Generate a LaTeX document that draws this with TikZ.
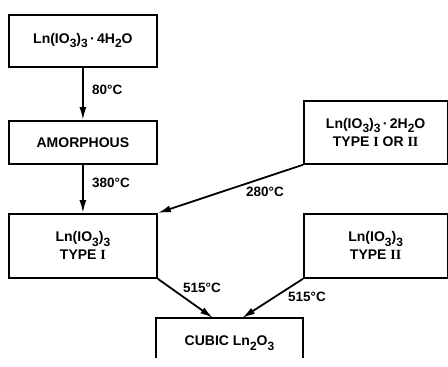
\documentclass[tikz,border=0pt]{standalone}
\usepackage{fontspec}
\setmainfont{Liberation Sans}
\newfontfamily\numfont{Liberation Serif}
\usetikzlibrary{arrows.meta}
% lowered subscript set in the text face
\newcommand{\lowsub}[1]{\raisebox{-0.55ex}{\fontsize{12}{12}\selectfont\bfseries #1}}
% roman numerals with serifs
\newcommand{\rn}[1]{{\numfont\bfseries #1}}
% raised dot of a hydrate
\newcommand{\hdot}{\,·\,}
\begin{document}
\begin{tikzpicture}[x=1pt,y=-1pt,
  box/.style={draw,line width=1.8pt,inner sep=0pt,align=center,
    font=\fontsize{14}{19}\selectfont\bfseries},
  flow/.style={line width=1.8pt,-{Latex[length=13pt,width=7pt]}},
  temp/.style={font=\fontsize{13.5}{16}\selectfont\bfseries,inner sep=0pt,anchor=west}]
\useasboundingbox (0,0) rectangle (448,367);

% phases
\node[box,minimum width=148pt,minimum height=52pt,anchor=north west] (hyd4) at (8,14)
  {Ln(IO\lowsub{3})\lowsub{3}\hdot4H\lowsub{2}O};
\node[box,minimum width=148pt,minimum height=43pt,anchor=north west] (amor) at (8,120)
  {AMORPHOUS};
\node[box,minimum width=148pt,minimum height=64pt,anchor=north west] (typeI) at (8,213)
  {Ln(IO\lowsub{3})\lowsub{3}\\[-1pt] TYPE \rn{I}};
\node[box,minimum width=143.5pt,minimum height=63pt,anchor=north west] (hyd2) at (303,100)
  {Ln(IO\lowsub{3})\lowsub{3}\hdot2H\lowsub{2}O\\[-1pt] TYPE \rn{I} OR \rn{II}};
\node[box,minimum width=143.5pt,minimum height=64pt,anchor=north west] (typeII) at (303,213)
  {Ln(IO\lowsub{3})\lowsub{3}\\[-1pt] TYPE \rn{II}};
\node[inner sep=0pt,minimum width=147pt,minimum height=50pt,anchor=north,
  font=\fontsize{14}{19}\selectfont\bfseries] (cubic) at (229.5,318)
  {CUBIC Ln\lowsub{2}O\lowsub{3}};
\draw[line width=1.8pt] ([yshift=10pt]cubic.south west) -- (cubic.north west)
  -- (cubic.north east) -- ([yshift=10pt]cubic.south east);

% transformations
\draw[flow] (hyd4) -- (amor);
\draw[flow] (amor) -- (typeI);
\draw[flow] (hyd2.south west) -- (typeI.north east);
\draw[flow] (typeI.south east) -- ([xshift=-16.5pt]cubic.north);
\draw[flow] (typeII.south west) -- ([xshift=12.5pt]cubic.north);

% temperatures
\node[temp] (t80) at (92,90) {80°C};
\node[temp] (t380) at (92,183) {380°C};
\node[temp] (t280) at (246,192) {280°C};
\node[temp] (t515a) at (183,288) {515°C};
\node[temp] (t515b) at (288,297) {515°C};
\end{tikzpicture}
\end{document}
